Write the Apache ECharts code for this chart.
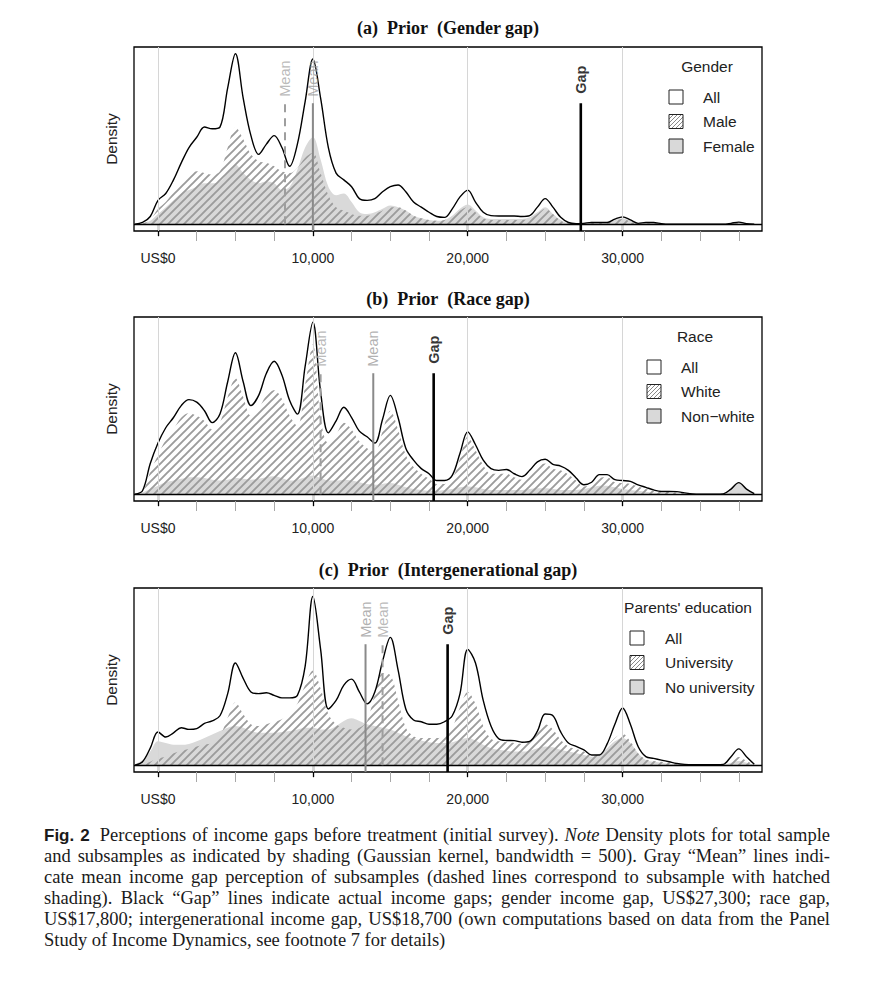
<!DOCTYPE html>
<html>
<head>
<meta charset="utf-8">
<title>Fig. 2 Perceptions of income gaps</title>
<script src="https://cdn.jsdelivr.net/npm/echarts@6.0.0/dist/echarts.min.js"></script>
<style>
html, body { margin:0; padding:0; background:#fff; }
#chart { position:absolute; left:0; top:0; width:875px; height:818px; }
#caption { position:absolute; left:44px; top:825px; width:786px;
  font-family:"Liberation Serif","Times New Roman",serif; font-size:18.5px; line-height:21px; color:#1a1a1a; }
#caption .ln { text-align:justify; text-align-last:justify; }
#caption .ln.last { text-align:left; text-align-last:left; }
#caption b { font-family:"Liberation Sans", Arial, sans-serif; font-size:17px; margin-right:4px; }
</style>
</head>
<body>
<div id="chart"></div>
<div id="caption">
<div class="ln"><b>Fig. 2</b> Perceptions of income gaps before treatment (initial survey). <i>Note</i> Density plots for total sample</div>
<div class="ln">and subsamples as indicated by shading (Gaussian kernel, bandwidth = 500). Gray “Mean” lines indi-</div>
<div class="ln">cate mean income gap perception of subsamples (dashed lines correspond to subsample with hatched</div>
<div class="ln">shading). Black “Gap” lines indicate actual income gaps; gender income gap, US$27,300; race gap,</div>
<div class="ln">US$17,800; intergenerational income gap, US$18,700 (own computations based on data from the Panel</div>
<div class="ln last">Study of Income Dynamics, see footnote 7 for details)</div>
</div>
<script>
// ---------------- DATA ----------------
const xs = [
  -1500,-1000,-500,0,500,1000,1500,2000,2500,3000,
  3500,4000,4500,5000,5500,6000,6500,7000,7500,8000,
  8500,9000,9500,10000,10500,11000,11500,12000,12500,13000,
  13500,14000,14500,15000,15500,16000,16500,17000,17500,18000,
  18500,19000,19500,20000,20500,21000,21500,22000,22500,23000,
  23500,24000,24500,25000,25500,26000,26500,27000,27500,28000,
  28500,29000,29500,30000,30500,31000,31500,32000,32500,33000,
  33500,34000,34500,35000,35500,36000,36500,37000,37500,38000,
  38500];

// (a) Gender
const allA = [
  0,1,4.5,14,18,26,36,45,51,57,
  56,57,80,100,74,52,41,47,52,45,
  34,47,72,97,74,45,30,26,22,15,
  14,15,19,22,23,19,13,10,7,4.5,
  4,9,16,20,13,7,5,4.8,4.8,4.8,
  4.5,5,10,15,10,4,1,0.3,0.5,1,
  1,1,3,4.3,2.5,0.5,1,1,0.3,0,
  0,0,0,0,0,0,0,0.5,1.2,0.3,
  0];
const maleA = [
  0,0.5,2.5,9,13,19,25,29,31,30,
  29,31,45,57,50,41,37,36,34,31,
  30,33,39,42,30,17,10,8,6,5,
  5,6,8,10,10,8,5,3.5,2.5,2,
  2.5,4,8,10,7,3.5,2.5,2.5,2.5,2.5,
  2.5,3,6,9,6,2,0.5,0,0.5,1,
  1,1,2,3,1.5,0.5,0.5,0.5,0,0,
  0,0,0,0,0,0,0,0.3,0.8,0.2,
  0];
const femaleA = [
  0,0.5,2,6,10,14,18,20,22,24,
  24,25,30,35,30,26,24,25,24,20,
  22,32,45,51,38,22,17,18,13,7,
  6,7,9,11,10,8,5,3.5,2.5,2,
  2.5,5,9,11.5,8,4,3,3,3,3,
  3,4,7,10,6,2.5,0.5,0,1,1.5,
  1,1,2.5,3.5,2,0.5,1,1,0.5,0,
  0,0,0,0,0,0,0,0.3,0.8,0.2,
  0];

// (b) Race
const allB = [
  0,2,18,30,39,45,52,55.5,54,49,
  42,47,66,83,66,52,58,71,78,70,
  55,47,75,101,60,36,43,51,45,37,
  33.7,30,44,58,45,27,20,15,12,8,
  8,11,24,36.6,29,20,15,14,14.5,12,
  10.3,14,19,20.5,17.5,16.5,14,9.5,5.5,7,
  11.5,11.5,8.5,8,7.5,5.5,4,2.5,1.6,1.6,
  1.5,0.8,0.2,0,0,0,0.2,3,6.8,3,
  0.3];
const whiteB = [
  0,1.5,13,23,32,38,45,47.5,46,43,
  38,42,57,68,57,46,50,58,61,56,
  46,40,64,88,45,30,35,42,38,31,
  27,25,37,49,38,23,16,12,9,6,
  6,9,21,33.7,26,17,12,12,12,10,
  8.5,11.5,16,18,15,14,11.5,8,4.5,5.5,
  9.5,10,7,6.5,6,4.5,3,2,1.3,1.3,
  1,0.5,0,0,0,0,0,0.2,0.3,0.1,
  0];
const nonwhiteB = [
  0,1,3,5,7,8,9,10,10,9.5,
  8.5,8,8.5,9.5,9,8.5,9,10,10.5,9.5,
  8,8.5,10,11,9.5,8,8,8.5,8,7,
  6,5.5,6,6.5,5.5,4,3,2.5,2,2,
  2.5,3,4,4.5,4,3,2.5,2.5,2.5,2.5,
  2.5,3,3.5,3.5,3,2.5,2.5,2.5,3,4,
  5,5,4,3,2.5,2,1.5,1,0.5,0.3,
  0.2,0,0,0,0,0,0.3,3.5,6.5,3,
  0.3];

// (c) Intergenerational
const allC = [
  0,2,10,19.5,16.5,19,22,21,21.5,24.5,
  26,29,42,60,51,43,42,42.5,41,39.5,
  39.5,41,58,99,68,33,38,47,50.5,43,
  36,43,61,75,56,33,26.5,25.5,24,24,
  25.5,29,42,68,60,38,23,15.5,14.5,14.4,
  13.5,14,20,30,29,19.5,13,11,9,6,
  6,12.5,24,33.6,24,11,5,4,3,2,
  1,0.5,0.3,0.3,0.3,0.3,0.5,5,9.6,5,
  0.5];
const univC = [
  0,0.5,2,4,5,7,8.5,9.5,11,12,
  13,17,28,37,30,24,23,24,25.5,27,
  30,36,47,55.6,45,30,24,22,21,22,
  26,42,54,53,38,22,17,16,16,16,
  17,22,34,43,36,23,15.5,14,13.5,13,
  12.5,14,19,24,21,15,11,9.5,8,5.5,
  6.5,11,16,18.5,14,7,3.5,2.5,2,1.5,
  0.5,0.2,0,0,0,0,0.3,3,4.8,2.5,
  0.3];
const nouniC = [
  0.5,3,8,14,13,12,12,12.5,14,16,
  18,20,22,23,22,20,19,19,19,19.5,
  20,21,22,22,21,21,23,26,27.5,26,
  24,23,22,21,19,17,15.5,14.5,13.5,13,
  13,13.5,15,16,14.5,12,10,9,8.5,8,
  8,8.5,10,11,10.5,9,8,7,6,5,
  6,10,14,16,13,7,3,2,1.5,1,
  0.5,0.3,0,0,0,0,0.3,1.5,2.5,1.5,
  0.3];

const majorTicks = [0, 10000, 20000, 30000];
const majorLabels = ['US$0', '10,000', '20,000', '30,000'];
const minorTicks = [2500, 5000, 7500, 12500, 15000, 17500, 22500, 25000, 27500, 32500, 35000, 37500];

const panelTitles = ['(a)\u00a0 Prior\u00a0 (Gender gap)', '(b)\u00a0 Prior\u00a0 (Race gap)', '(c)\u00a0 Prior\u00a0 (Intergenerational gap)'];
const legendTitles = ['Gender', 'Race', "Parents' education"];
const legendItems = [['All', 'Male', 'Female'], ['All', 'White', 'Non\u2212white'], ['All', 'University', 'No university']];
const meanHatched = [8200, 10500, 14500];   // dashed gray lines
const meanShaded  = [10000, 13900, 13400];  // solid gray lines
const actualGap   = [27300, 17800, 18700];  // black lines
const markerTop = 71;

const allSeries = [allA, allB, allC];
const hatchedSeries = [maleA, whiteB, univC];
const shadedSeries = [femaleA, nonwhiteB, nouniC];

// ---------------- LAYOUT / STYLE ----------------
const SANS = '"Liberation Sans", Arial, Helvetica, sans-serif';
const SERIF = '"Liberation Serif", "Times New Roman", serif';
const gridTop = [47, 317, 588];
const gridH = 184, gridLeft = 134, gridRight = 113;
const titleY = [28, 299, 570];
const legendPos = [
  {box: 669, text: 703, title: 707},
  {box: 647, text: 681, title: 695},
  {box: 630, text: 665, title: 688}
];
const xMin = -1550, xMax = 39000, yMin = -4, yMax = 104;

function makeHatch(size, color, lw) {
  const c = document.createElement('canvas');
  c.width = size; c.height = size;
  const g = c.getContext('2d');
  g.strokeStyle = color; g.lineWidth = lw;
  g.beginPath();
  g.moveTo(-1, size + 1); g.lineTo(size + 1, -1);
  g.moveTo(-2, 2); g.lineTo(2, -2);
  g.moveTo(size - 2, size + 2); g.lineTo(size + 2, size - 2);
  g.stroke();
  return c;
}
const hatchCanvas = makeHatch(8, '#9c9c9c', 1.9);
const hatchFill = {image: hatchCanvas, repeat: 'repeat', imageWidth: 8, imageHeight: 8};
const hatchSmall = makeHatch(4, '#8a8a8a', 1);
const hatchFillSmall = {image: hatchSmall, repeat: 'repeat', imageWidth: 4, imageHeight: 4};
const SHADE = '#d9d9d9';

const chart = echarts.init(document.getElementById('chart'), null, {renderer: 'svg'});

const grids = [], xAxes = [], yAxes = [], series = [], graphics = [];

for (let i = 0; i < 3; i++) {
  grids.push({left: gridLeft, right: gridRight, top: gridTop[i], height: gridH,
    show: true, borderColor: '#000', borderWidth: 1.3, backgroundColor: 'transparent', containLabel: false});

  xAxes.push({
    type: 'value', gridIndex: i, min: xMin, max: xMax, position: 'bottom',
    axisLine: {show: false}, splitLine: {show: false},
    axisTick: {show: true, customValues: majorTicks, length: 12, lineStyle: {color: '#000', width: 1.3}},
    axisLabel: {show: true, customValues: majorTicks, margin: 20, fontFamily: SANS, fontSize: 14, color: '#222',
      formatter: v => { const k = majorTicks.indexOf(v); return k >= 0 ? majorLabels[k] : ''; }}
  });
  xAxes.push({
    type: 'value', gridIndex: i, min: xMin, max: xMax, position: 'top', offset: -gridH,
    axisLine: {show: false}, splitLine: {show: false}, axisLabel: {show: false},
    axisTick: {show: true, inside: true, customValues: minorTicks, length: 10, lineStyle: {color: '#a8a8a8', width: 1}}
  });
  yAxes.push({
    type: 'value', gridIndex: i, min: yMin, max: yMax,
    axisLine: {show: false}, axisTick: {show: false}, axisLabel: {show: false}, splitLine: {show: false},
    name: 'Density', nameLocation: 'middle', nameGap: 15, nameRotate: 90,
    nameTextStyle: {fontFamily: SANS, fontSize: 15.5, color: '#222'}
  });

  const xa = 2 * i, ya = i;
  const toPts = arr => xs.map((x, j) => [x, arr[j]]);

  series.push({type: 'line', xAxisIndex: xa, yAxisIndex: ya, data: [], z: 1, silent: true,
    markLine: {silent: true, symbol: 'none', animation: false, label: {show: false},
      lineStyle: {color: '#d6d6d6', width: 1, type: 'solid'},
      data: majorTicks.map(v => ({xAxis: v}))}});

  series.push({type: 'line', name: legendItems[i][2], xAxisIndex: xa, yAxisIndex: ya, z: 2, silent: true,
    data: toPts(shadedSeries[i]), smooth: 0.35, symbol: 'none',
    lineStyle: {width: 0, color: SHADE}, areaStyle: {color: SHADE, opacity: 1}});
  series.push({type: 'line', name: legendItems[i][1], xAxisIndex: xa, yAxisIndex: ya, z: 3, silent: true,
    data: toPts(hatchedSeries[i]), smooth: 0.35, symbol: 'none',
    lineStyle: {width: 0, color: '#9c9c9c'}, areaStyle: {color: hatchFill, opacity: 1}});
  series.push({type: 'line', name: legendItems[i][0], xAxisIndex: xa, yAxisIndex: ya, z: 4, silent: true,
    data: toPts(allSeries[i]), smooth: 0.35, symbol: 'none',
    lineStyle: {width: 1.4, color: '#000'}});

  series.push({type: 'line', xAxisIndex: xa, yAxisIndex: ya, data: [], z: 6, silent: true,
    markLine: {silent: true, symbol: 'none', animation: false, label: {show: false},
      lineStyle: {color: '#000', width: 1.3, type: 'solid'}, data: [{yAxis: 0}]}});

  series.push({type: 'line', xAxisIndex: xa, yAxisIndex: ya, z: 5, silent: true, symbol: 'none',
    data: [[meanHatched[i], 0], [meanHatched[i], markerTop]],
    lineStyle: {color: '#9e9e9e', width: 2, type: [8, 6]}});
  series.push({type: 'line', xAxisIndex: xa, yAxisIndex: ya, z: 5, silent: true, symbol: 'none',
    data: [[meanShaded[i], yMin], [meanShaded[i], markerTop]],
    lineStyle: {color: '#8a8a8a', width: 2}});
  series.push({type: 'line', xAxisIndex: xa, yAxisIndex: ya, z: 7, silent: true, symbol: 'none',
    data: [[actualGap[i], yMin], [actualGap[i], markerTop]],
    lineStyle: {color: '#000', width: 2.6}});

  series.push({type: 'scatter', xAxisIndex: xa, yAxisIndex: ya, z: 8, silent: true, symbolSize: 1,
    itemStyle: {color: 'rgba(0,0,0,0)'},
    label: {show: true, position: 'top', distance: 6, rotate: 90, align: 'left', verticalAlign: 'middle',
      fontFamily: SANS, fontSize: 14.5},
    data: [
      {value: [meanHatched[i], markerTop], label: {formatter: 'Mean', color: '#a8a8a8'}},
      {value: [meanShaded[i], markerTop], label: {formatter: 'Mean', color: '#9c9c9c'}},
      {value: [actualGap[i], markerTop], label: {formatter: 'Gap', color: '#000', fontWeight: 'bold', distance: 9}}
    ]});

  graphics.push({type: 'text', x: 448, y: titleY[i], silent: true,
    style: {text: panelTitles[i], font: 'bold 18px ' + SERIF, fill: '#111',
      align: 'center', verticalAlign: 'middle', textAlign: 'center', textVerticalAlign: 'middle'}});

  const lp = legendPos[i];
  const top = gridTop[i];
  graphics.push({type: 'text', x: lp.title, y: top + 19.5, silent: true,
    style: {text: legendTitles[i], font: '15.5px ' + SANS, fill: '#222',
      align: 'center', verticalAlign: 'middle', textAlign: 'center', textVerticalAlign: 'middle'}});
  const fills = ['#fff', hatchFillSmall, SHADE];
  const rowOff = [50, 74.5, 99];
  for (let k = 0; k < 3; k++) {
    graphics.push({type: 'rect', silent: true, shape: {x: lp.box, y: top + rowOff[k] - 7, width: 14, height: 14},
      style: {fill: fills[k], stroke: '#222', lineWidth: 1}});
    graphics.push({type: 'text', x: lp.text, y: top + rowOff[k], silent: true,
      style: {text: legendItems[i][k], font: '15.5px ' + SANS, fill: '#222',
        align: 'left', verticalAlign: 'middle', textAlign: 'left', textVerticalAlign: 'middle'}});
  }
}

chart.setOption({
  animation: false,
  backgroundColor: '#fff',
  grid: grids,
  xAxis: xAxes,
  yAxis: yAxes,
  series: series,
  graphic: {elements: graphics}
});
</script>
</body>
</html>
